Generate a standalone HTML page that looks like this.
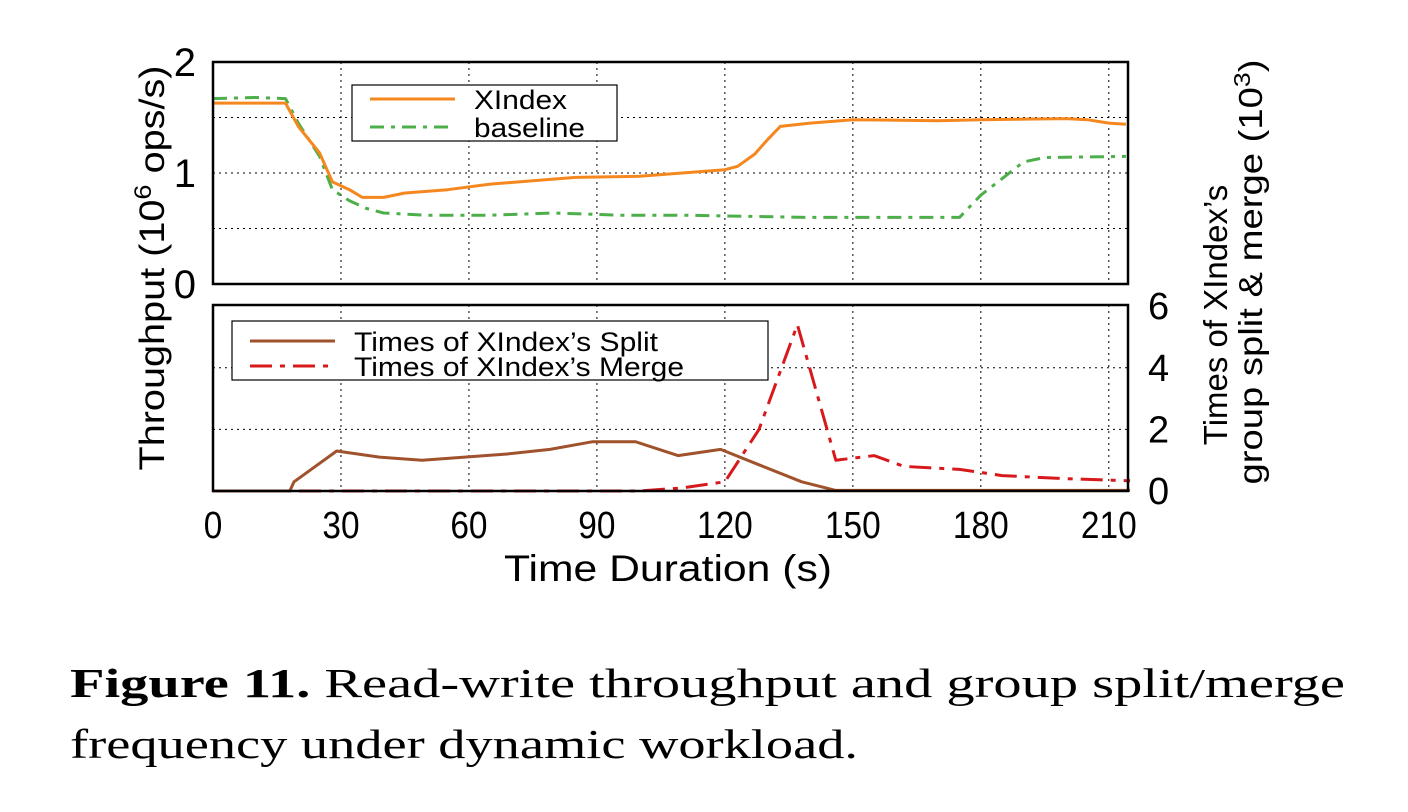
<!DOCTYPE html>
<html><head><meta charset="utf-8"><style>
body{margin:0;background:#fff;width:1408px;height:812px;overflow:hidden}
svg{display:block}
.t{font-family:"Liberation Sans",sans-serif;fill:#000}
.cap{font-family:"Liberation Serif",serif;font-size:41px;fill:#000}
</style></head><body>
<svg id="chart" width="1408" height="812" viewBox="0 0 1408 812" xmlns="http://www.w3.org/2000/svg">
<g id="grid"></g>
<g id="marks"></g>
<g id="axes"></g>
<text class="t" font-size="35" text-anchor="middle" transform="translate(164,268) rotate(-90)" textLength="405" lengthAdjust="spacingAndGlyphs">Throughput (10<tspan font-size="24" dy="-13">6</tspan><tspan dy="13"> ops/s)</tspan></text>
<text class="t" font-size="33" text-anchor="middle" transform="translate(1227,315) rotate(-90)">Times of XIndex’s</text>
<text class="t" font-size="33" text-anchor="middle" transform="translate(1262,272) rotate(-90)" textLength="425" lengthAdjust="spacingAndGlyphs">group split &amp; merge (10<tspan font-size="23" dy="-12">3</tspan><tspan dy="12">)</tspan></text>
<text class="t" font-size="37" text-anchor="middle" x="668" y="581" textLength="328" lengthAdjust="spacingAndGlyphs">Time Duration (s)</text>
<g>
<rect x="352" y="85" width="265" height="56" fill="#fff" stroke="#000" stroke-width="1.2"/>
<line x1="370" y1="99" x2="455" y2="99" stroke="#f5871f" stroke-width="3"/>
<line x1="370" y1="127" x2="455" y2="127" stroke="#4daf4a" stroke-width="3" stroke-dasharray="14,7,4,7"/>
<text class="t" font-size="27" x="474" y="109" textLength="93" lengthAdjust="spacingAndGlyphs">XIndex</text>
<text class="t" font-size="27" x="474" y="137" textLength="111" lengthAdjust="spacingAndGlyphs">baseline</text>
</g>
<g>
<rect x="232" y="321" width="536" height="59" fill="#fff" stroke="#000" stroke-width="1.2"/>
<line x1="250" y1="341" x2="335" y2="341" stroke="#a0522d" stroke-width="3"/>
<line x1="250" y1="366" x2="335" y2="366" stroke="#d7191c" stroke-width="3" stroke-dasharray="22,8,5,8"/>
<text class="t" font-size="27" x="354" y="351" textLength="304" lengthAdjust="spacingAndGlyphs">Times of XIndex’s Split</text>
<text class="t" font-size="27" x="354" y="376" textLength="330" lengthAdjust="spacingAndGlyphs">Times of XIndex’s Merge</text>
</g>
<text class="cap" x="70" y="697" textLength="1275" lengthAdjust="spacingAndGlyphs"><tspan font-weight="bold">Figure 11.</tspan>  Read-write throughput and group split/merge</text>
<text class="cap" x="70" y="758" textLength="788" lengthAdjust="spacingAndGlyphs">frequency under dynamic workload.</text>
</svg>
<script>
const xTicks=[0,30,60,90,120,150,180,210];
const topTicks=[0,1,2];
const botTicks=[0,2,4,6];
const tXI=[0,10,17,20,25,28,32,35,40,45,55,65,75,85,100,110,120,123,127,130,133,140,150,170,180,200,205,210,214];
const vXI=[1.63,1.63,1.63,1.42,1.18,0.92,0.85,0.78,0.78,0.82,0.85,0.9,0.93,0.96,0.97,1.0,1.03,1.06,1.17,1.3,1.42,1.45,1.48,1.47,1.48,1.49,1.48,1.45,1.44];
const tBL=[0,10,17,20,25,28,32,36,40,50,65,80,95,110,125,140,160,170,175,180,185,190,195,214];
const vBL=[1.67,1.68,1.67,1.45,1.15,0.85,0.75,0.68,0.64,0.62,0.62,0.64,0.62,0.62,0.61,0.6,0.6,0.6,0.6,0.8,0.95,1.1,1.14,1.15];
const tSP=[0,18,19,29,39,49,59,69,79,89,99,109,119,128,138,146,215];
const vSP=[0,0,0.3,1.3,1.1,1.0,1.1,1.2,1.35,1.6,1.6,1.15,1.35,0.85,0.3,0.02,0.02];
const tMG=[0,100,110,120,128,137,146,155,162,175,185,200,215];
const vMG=[0,0,0.1,0.3,2.0,5.4,1.0,1.15,0.8,0.7,0.5,0.4,0.33];
const X0=213,X1=1128,XMAX=214.5;
const x=t=>X0+t*(X1-X0)/XMAX;
const yT=v=>284-v*111;
const yB=v=>491-v*30.8;
const NS='http://www.w3.org/2000/svg';
function mk(tag,attrs,parent){const e=document.createElementNS(NS,tag);for(const k in attrs)e.setAttribute(k,attrs[k]);document.getElementById(parent).appendChild(e);return e;}
xTicks.forEach(t=>{if(t===0)return;
 let g=mk('line',{x1:x(t),x2:x(t),y1:62,y2:284,stroke:'#000','stroke-width':1,'stroke-dasharray':'2,4'},'grid');
 
 
 let h=mk('line',{x1:x(t),x2:x(t),y1:305,y2:491,stroke:'#000','stroke-width':1,'stroke-dasharray':'2,4'},'grid');
 
 
});
[0.5,1,1.5].forEach(v=>{let g=mk('line',{x1:X0,x2:X1,y1:yT(v),y2:yT(v),stroke:'#000','stroke-width':1,'stroke-dasharray':'2,4'},'grid');
 
 });
[2,4].forEach(v=>{let g=mk('line',{x1:X0,x2:X1,y1:yB(v),y2:yB(v),stroke:'#000','stroke-width':1,'stroke-dasharray':'2,4'},'grid');
 
 });
function series(ts,vs,yf,color,dash,name){
 const d=ts.map((t,i)=>(i?'L':'M')+x(t).toFixed(1)+','+yf(vs[i]).toFixed(1)).join('');
 const p=mk('path',{d:d,fill:'none',stroke:color,'stroke-width':3,'stroke-linejoin':'round'},'marks');
 if(dash)p.setAttribute('stroke-dasharray',dash);
 
 
}
series(tBL,vBL,yT,'#4daf4a','14,7,4,7','line-baseline');
series(tXI,vXI,yT,'#f5871f',null,'line-xindex');
series(tMG,vMG,yB,'#d7191c','22,8,5,8','line-merge');
series(tSP,vSP,yB,'#a0522d',null,'line-split');
[[62,284],[305,491]].forEach((r,i)=>{let f=mk('rect',{x:X0,y:r[0],width:X1-X0,height:r[1]-r[0],fill:'none',stroke:'#000','stroke-width':2.5},'axes');
 
 });
xTicks.forEach(t=>{let e=mk('text',{x:x(t),y:538,'text-anchor':'middle','font-size':38,class:'t',transform:'translate('+x(t)+',0) scale(0.88,1) translate('+(-x(t))+',0)'},'axes');e.textContent=t;
 
 });
topTicks.forEach(v=>{let e=mk('text',{x:196,y:yT(v)+14,'text-anchor':'end','font-size':40,class:'t'},'axes');e.textContent=v;
 
 });
botTicks.forEach(v=>{let e=mk('text',{x:1148,y:yB(v)+13,'text-anchor':'start','font-size':38,class:'t'},'axes');e.textContent=v;
 
 });
</script>
</body></html>
